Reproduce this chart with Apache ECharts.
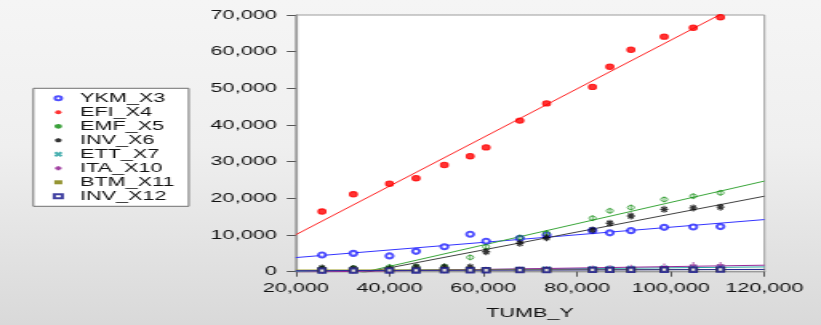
<!DOCTYPE html>
<html>
<head>
<meta charset="utf-8">
<script src="https://cdn.jsdelivr.net/npm/echarts@6/dist/echarts.min.js"></script>
<style>
  html, body {
    margin: 0; padding: 0; width: 821px; height: 325px; overflow: hidden;
    background: linear-gradient(to bottom, #f5f5f5 0%, #efefef 45%, #d9d9d9 100%);
  }
  /* the chart is laid out narrow and stretched sideways */
  #chart { width: 513px; height: 325px; transform: scaleX(1.6004); transform-origin: 0 0; }
</style>
</head>
<body>
<div id="chart"></div>
<script>
// TUMB_Y on the horizontal axis, one entry per observation
const tumbY  = [25600, 32300, 40000, 45650, 51700, 57200, 60600, 67800, 73500, 83300, 87000, 91500, 98600, 104800, 110600];
const ykmX3  = [4550, 5000, 4300, 5550, 6800, 10200, 8300, 9100, 10000, 11200, 10600, 11200, 12100, 12200, 12300];
const efiX4  = [16400, 21100, 24000, 25500, 29100, 31500, 33900, 41200, 45900, 50400, 55900, 60500, 64100, 66500, 69400];
const emfX5  = [900, 1000, 1300, 1400, 1400, 3900, 6800, 9300, 10500, 14600, 16600, 17500, 19700, 20600, 21500];
const invX6  = [1000, 900, 800, 1300, 1300, 1300, 5450, 7750, 9270, 11400, 13200, 15200, 17000, 17400, 17600];
const ettX7  = [250, 300, 350, 400, 450, 500, 550, 650, 750, 850, 900, 950, 1050, 1150, 1250];
const itaX10 = [200, 250, 300, 350, 400, 450, 500, 600, 700, 900, 1000, 1100, 1400, 1800, 1850];
const btmX11 = [450, 450, 500, 500, 500, 500, 500, 550, 550, 550, 550, 550, 600, 600, 600];
const invX12 = [300, 300, 350, 350, 400, 400, 400, 450, 450, 500, 500, 500, 550, 550, 600];

const xTicks = [20000, 40000, 60000, 80000, 100000, 120000];
const yTicks = [0, 10000, 20000, 30000, 40000, 50000, 60000, 70000];

const FONT = 'Liberation Sans';
const fmt = v => Math.round(v).toString().replace(/\B(?=(\d{3})+(?!\d))/g, ',');

// least-squares line across the full x range
function fitLine(xs, ys) {
  const n = xs.length;
  const mx = xs.reduce((a, b) => a + b, 0) / n;
  const my = ys.reduce((a, b) => a + b, 0) / n;
  let sxy = 0, sxx = 0;
  for (let i = 0; i < n; i++) { sxy += (xs[i] - mx) * (ys[i] - my); sxx += (xs[i] - mx) ** 2; }
  const b = sxy / sxx, a = my - b * mx;
  const x0 = xTicks[0], x1 = xTicks[xTicks.length - 1];
  return [[x0, a + b * x0], [x1, a + b * x1]];
}

const clear = 'rgba(0,0,0,0)';
const groups = [
  { name: 'YKM_X3',  ys: ykmX3,  color: '#2323ff', line: '#3434ff', symbol: 'emptyCircle', size: [4.4, 5], style: { borderWidth: 0.8 } },
  { name: 'EFI_X4',  ys: efiX4,  color: '#ff0000', line: '#ff2020', symbol: 'circle', size: [4.8, 5.4], style: {} },
  { name: 'EMF_X5',  ys: emfX5,  color: '#0a8a0a', line: '#3aa63a',
    symbol: 'path://M1.5,5A3.5,3.5 0 1 1 8.5,5A3.5,3.5 0 1 1 1.5,5ZM5,0L5,10', size: [4.2, 6],
    style: { color: clear, borderWidth: 0.8 } },
  { name: 'INV_X6',  ys: invX6,  color: '#000000', line: '#404040',
    symbol: 'path://M5,0L5,10M0,5L10,5M1.5,1.5L8.5,8.5M1.5,8.5L8.5,1.5', size: [5, 7],
    style: { color: clear, borderWidth: 1.2 } },
  { name: 'ETT_X7',  ys: ettX7,  color: '#1c9c9c', line: '#2aa5a5',
    symbol: 'path://M0,0L10,10M0,10L10,0', size: [4, 5], style: { color: clear, borderWidth: 1 } },
  { name: 'ITA_X10', ys: itaX10, color: '#8a108a', line: '#9a2a9a',
    symbol: 'path://M5,0L5,10M0,5L10,5', size: [4.6, 6], style: { color: clear, borderWidth: 1 } },
  { name: 'BTM_X11', ys: btmX11, color: '#7a7a00', line: '#9a9a20', symbol: 'rect', size: [5, 4], style: {} },
  { name: 'INV_X12', ys: invX12, color: '#10108a', line: '#2a2a9a', symbol: 'emptyRect', size: [4, 4.4], style: { borderWidth: 0.9 } }
];

const series = [];
groups.forEach(g => {
  series.push({
    type: 'line',
    data: fitLine(tumbY, g.ys),
    showSymbol: false,
    clip: true,
    silent: true,
    z: 2,
    lineStyle: { color: g.line, width: 1 }
  });
});
groups.forEach(g => {
  series.push({
    name: g.name,
    type: 'scatter',
    data: tumbY.map((x, i) => [x, g.ys[i]]),
    symbol: g.symbol,
    symbolSize: g.size,
    z: 3,
    itemStyle: Object.assign({ color: g.color, borderColor: g.color }, g.style)
  });
});

const chart = echarts.init(document.getElementById('chart'));
chart.setOption({
  animation: false,
  backgroundColor: 'transparent',
  textStyle: { fontFamily: FONT },
  legend: {
    orient: 'vertical',
    left: 20.8, top: 88.3,
    itemWidth: 5, itemHeight: 4, itemGap: 0,
    padding: [3, 9, 3, 12.1],
    backgroundColor: '#ffffff',
    borderColor: '#707070', borderWidth: 1,
    selectedMode: false,
    textStyle: { fontFamily: FONT, fontSize: 13.5, color: '#111', lineHeight: 14, padding: [0, 0, 0, 6] },
    data: groups.map(g => g.name)
  },
  grid: {
    left: 184.8, right: 35.3, top: 15, bottom: 53.3,
    show: true, backgroundColor: '#ffffff', borderColor: '#9c9c9c', borderWidth: 1,
    outerBoundsMode: 'none'
  },
  xAxis: {
    type: 'value',
    min: xTicks[0], max: xTicks[xTicks.length - 1], interval: xTicks[1] - xTicks[0],
    name: 'TUMB_Y', nameLocation: 'middle', nameGap: 35,
    nameTextStyle: { fontFamily: FONT, fontSize: 13.5, color: '#111' },
    axisLine: { lineStyle: { color: '#9a9a9a', width: 1.3 } },
    axisTick: { length: 5, lineStyle: { color: '#555' } },
    axisLabel: { margin: 10, fontFamily: FONT, fontSize: 13.5, color: '#111', formatter: fmt },
    splitLine: { show: false }
  },
  yAxis: {
    type: 'value',
    min: yTicks[0], max: yTicks[yTicks.length - 1], interval: yTicks[1] - yTicks[0],
    axisLine: { show: true, lineStyle: { color: '#9a9a9a', width: 1.3 } },
    axisTick: { show: true, length: 5.6, lineStyle: { color: '#555' } },
    axisLabel: { margin: 11.9, fontFamily: FONT, fontSize: 13.5, color: '#111', formatter: fmt },
    splitLine: { show: false }
  },
  series: series
});
</script>
</body>
</html>
